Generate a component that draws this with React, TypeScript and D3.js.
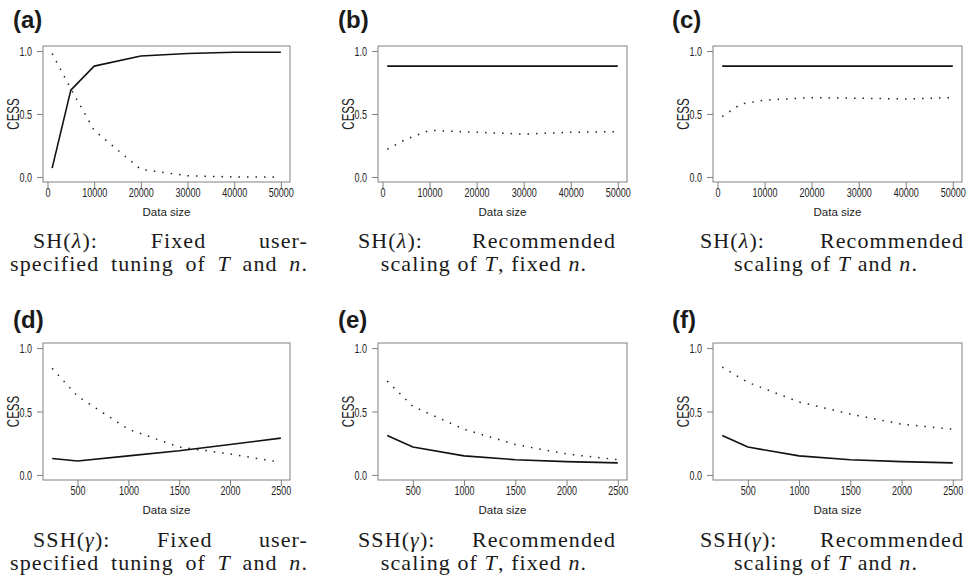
import React, { useEffect, useRef } from 'react';
import * as d3 from 'd3';

// data sizes on the x axis
const sizesSH = [1000, 5000, 10000, 20000, 30000, 40000, 50000];
const sizesSSH = [250, 500, 1000, 1500, 2000, 2500];

// CESS values (solid = first series, dotted = second)
const cessASolid = [0.07, 0.69, 0.88, 0.96, 0.98, 0.99, 0.99];
const cessADotted = [0.98, 0.70, 0.37, 0.06, 0.01, 0.0, 0.0];
const cessBSolid = [0.88, 0.88, 0.88, 0.88, 0.88, 0.88, 0.88];
const cessBDotted = [0.22, 0.30, 0.37, 0.355, 0.34, 0.355, 0.36];
const cessCSolid = [0.88, 0.88, 0.88, 0.88, 0.88, 0.88, 0.88];
const cessCDotted = [0.48, 0.58, 0.61, 0.63, 0.625, 0.62, 0.63];
const cessDSolid = [0.13, 0.11, 0.15, 0.19, 0.24, 0.29];
const cessDDotted = [0.84, 0.62, 0.36, 0.22, 0.165, 0.10];
const cessESolid = [0.31, 0.22, 0.15, 0.12, 0.105, 0.095];
const cessEDotted = [0.74, 0.54, 0.36, 0.24, 0.165, 0.12];
const cessFSolid = [0.31, 0.22, 0.15, 0.12, 0.105, 0.095];
const cessFDotted = [0.85, 0.73, 0.575, 0.48, 0.40, 0.36];

// tick labels
const ticksSH = [0, 10000, 20000, 30000, 40000, 50000];
const ticksSSH = [500, 1000, 1500, 2000, 2500];
const ticksCESS = [0, 0.5, 1];

const panelLabels = ['(a)', '(b)', '(c)', '(d)', '(e)', '(f)'];
const xLabel = 'Data size';
const yLabel = 'CESS';

// caption words: each word is a list of [text, italic]
type Seg = [string, boolean?];
const fixedLine2: Seg[][] = [[['specified']], [['tuning']], [['of']], [['T', true]], [['and']], [['n', true], ['.']]];
const recLine2a: Seg[][] = [[['scaling']], [['of']], [['T', true], [',']], [['fixed']], [['n', true], ['.']]];
const recLine2b: Seg[][] = [[['scaling']], [['of']], [['T', true]], [['and']], [['n', true], ['.']]];
const shHead: Seg[] = [['SH('], ['λ', true], ['):']];
const sshHead: Seg[] = [['SSH('], ['γ', true], ['):']];

const captions: Seg[][][][] = [
  [[shHead, [['Fixed']], [['user-']]], fixedLine2],
  [[shHead, [['Recommended']]], recLine2a],
  [[shHead, [['Recommended']]], recLine2b],
  [[sshHead, [['Fixed']], [['user-']]], fixedLine2],
  [[sshHead, [['Recommended']]], recLine2a],
  [[sshHead, [['Recommended']]], recLine2b],
];

// layout
const cols = [
  { left: 43, right: 290, label: 13, l1: [33, 308], l2: [10, 308], l2mode: 'justify' },
  { left: 378, right: 627, label: 338, l1: [358, 616], l2: [484, 484], l2mode: 'center' },
  { left: 713, right: 962, label: 672, l1: [700, 964], l2: [826, 826], l2mode: 'center' },
];
const rows = [
  { top: 46, bottom: 182, label: 28, cap: [248, 271] },
  { top: 343, bottom: 480, label: 328, cap: [547, 570] },
];

const panels = [
  { sizes: sizesSH, ticks: ticksSH, solid: cessASolid, dotted: cessADotted },
  { sizes: sizesSH, ticks: ticksSH, solid: cessBSolid, dotted: cessBDotted },
  { sizes: sizesSH, ticks: ticksSH, solid: cessCSolid, dotted: cessCDotted },
  { sizes: sizesSSH, ticks: ticksSSH, solid: cessDSolid, dotted: cessDDotted },
  { sizes: sizesSSH, ticks: ticksSSH, solid: cessESolid, dotted: cessEDotted },
  { sizes: sizesSSH, ticks: ticksSSH, solid: cessFSolid, dotted: cessFDotted },
];

const SANS = '"Liberation Sans", Arial, Helvetica, sans-serif';
const SERIF = '"Liberation Serif", "Times New Roman", serif';
const SQUEEZE = 0.72;
const TICK_FONT = '12.5px';

// R style axis range: data range padded by 4% on each side
const padded = (lo: number, hi: number): [number, number] => {
  const d = (hi - lo) * 0.04;
  return [lo - d, hi + d];
};

const addWord = (parent: any, word: Seg[]) => {
  const t = parent.append('text');
  word.forEach(([s, it]) => {
    t.append('tspan').text(s).attr('font-style', it ? 'italic' : 'normal');
  });
  return t;
};

const drawLine = (svg: any, words: Seg[][], y: number, range: number[], mode: string) => {
  const g = svg.append('g')
    .attr('font-family', SERIF)
    .attr('font-size', 22)
    .attr('letter-spacing', 1.1)
    .attr('fill', '#1a1a1a');
  if (mode === 'center') {
    const t = g.append('text').attr('x', range[0]).attr('y', y).attr('text-anchor', 'middle');
    words.forEach((w, i) => {
      w.forEach(([s, it], j) => {
        const txt = (i > 0 && j === 0 ? ' ' : '') + s;
        t.append('tspan').text(txt).attr('font-style', it ? 'italic' : 'normal');
      });
    });
    return;
  }
  const nodes = words.map((w) => addWord(g, w).attr('y', y));
  const widths = nodes.map((n) => (n.node() as SVGTextElement).getComputedTextLength());
  const total = d3.sum(widths);
  const gap = words.length > 1 ? (range[1] - range[0] - total) / (words.length - 1) : 0;
  let xPos = range[0];
  nodes.forEach((n, i) => {
    n.attr('x', xPos);
    xPos += widths[i] + gap;
  });
};

const App = () => {
  const ref = useRef<SVGSVGElement>(null);

  useEffect(() => {
    const svg = d3.select(ref.current);
    svg.selectAll('*').remove();

    panels.forEach((p, idx) => {
      const col = cols[idx % 3];
      const row = rows[Math.floor(idx / 3)];

      const x = d3.scaleLinear()
        .domain(padded(d3.min(p.sizes) as number, d3.max(p.sizes) as number))
        .range([col.left, col.right]);
      const y = d3.scaleLinear()
        .domain(padded(0, 1))
        .range([row.bottom, row.top]);

      const g = svg.append('g');

      const line = d3.line<number>()
        .x((d, i) => x(p.sizes[i]))
        .y((d) => y(d));

      g.append('path')
        .attr('d', line(p.solid))
        .attr('fill', 'none')
        .attr('stroke', '#111')
        .attr('stroke-width', 1.6)
        .attr('stroke-linejoin', 'round');

      g.append('path')
        .attr('d', line(p.dotted))
        .attr('fill', 'none')
        .attr('stroke', '#222')
        .attr('stroke-width', 1.5)
        .attr('stroke-dasharray', '1.5 7');

      // frame
      g.append('rect')
        .attr('x', col.left)
        .attr('y', row.top)
        .attr('width', col.right - col.left)
        .attr('height', row.bottom - row.top)
        .attr('fill', 'none')
        .attr('stroke', '#808080')
        .attr('stroke-width', 1);

      // x axis
      const xa = g.append('g')
        .attr('transform', `translate(0,${row.bottom})`)
        .call(d3.axisBottom(x).tickValues(p.ticks).tickSize(6).tickFormat(d3.format('d')));
      xa.select('.domain').remove();
      xa.selectAll('line').attr('stroke', '#808080');
      xa.selectAll('text')
        .attr('y', 15.5)
        .attr('dy', null)
        .attr('transform', `scale(${SQUEEZE},1)`)
        .attr('fill', '#222')
        .style('font-family', SANS)
        .style('font-size', TICK_FONT);

      // y axis
      const ya = g.append('g')
        .attr('transform', `translate(${col.left},0)`)
        .call(d3.axisLeft(y).tickValues(ticksCESS).tickSize(6).tickFormat(d3.format('.1f')));
      ya.select('.domain').remove();
      ya.selectAll('line').attr('stroke', '#808080');
      ya.selectAll('text')
        .attr('x', -11 / SQUEEZE)
        .attr('dy', '0.36em')
        .attr('transform', `scale(${SQUEEZE},1)`)
        .attr('fill', '#222')
        .style('font-family', SANS)
        .style('font-size', TICK_FONT);

      // axis titles
      g.append('text')
        .attr('x', (col.left + col.right) / 2)
        .attr('y', row.bottom + 34)
        .attr('text-anchor', 'middle')
        .attr('font-family', SANS)
        .attr('font-size', 11.5)
        .attr('fill', '#222')
        .text(xLabel);

      g.append('text')
        .attr('transform', `translate(${col.left - 24},${(row.top + row.bottom) / 2}) rotate(-90) scale(0.72,1)`)
        .attr('text-anchor', 'middle')
        .attr('font-family', SANS)
        .attr('font-size', 16)
        .attr('fill', '#222')
        .text(yLabel);

      // panel letter
      g.append('text')
        .attr('x', col.label)
        .attr('y', row.label)
        .attr('font-family', SANS)
        .attr('font-weight', 'bold')
        .attr('font-size', 24)
        .attr('fill', '#1a1a1a')
        .text(panelLabels[idx]);

      // caption
      const cap = captions[idx];
      drawLine(svg, cap[0], row.cap[0], col.l1, 'justify');
      drawLine(svg, cap[1], row.cap[1], col.l2, col.l2mode);
    });
  }, []);

  return (
    <svg
      ref={ref}
      width={970}
      height={587}
      style={{ position: 'absolute', left: 0, top: 0, background: '#fff' }}
    />
  );
};

export default App;
